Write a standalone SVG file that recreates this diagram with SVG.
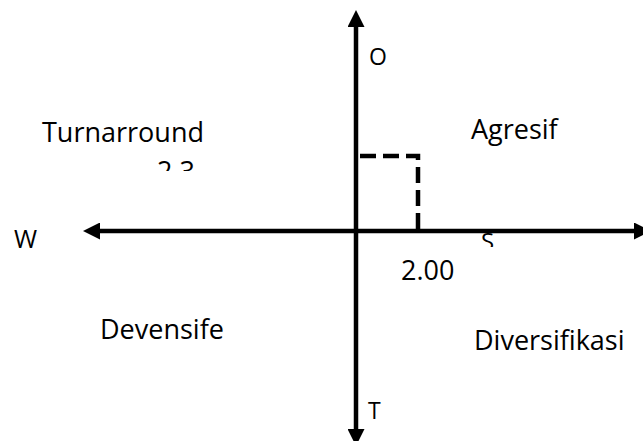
<svg xmlns="http://www.w3.org/2000/svg" width="643" height="441" viewBox="0 0 643 441">
<style>
text{font-family:"Open Sans","Liberation Sans",sans-serif;fill:#000}
.w{font-size:27px}
.l{font-size:23px}
.axis{stroke:#000;stroke-width:4.5;fill:none}
.dash{stroke:#000;stroke-width:4.5;fill:none;stroke-dasharray:16 7}
</style>
<defs>
<marker id="ah" viewBox="0 0 17 17" refX="0" refY="8.5" markerWidth="17" markerHeight="17" markerUnits="userSpaceOnUse" orient="auto-start-reverse">
<path d="M0,0 L17,8.5 L0,17 z" fill="#000"/>
</marker>
<clipPath id="clipA" clipPathUnits="userSpaceOnUse"><rect x="140" y="150" width="80" height="21"/></clipPath>
<clipPath id="clipB" clipPathUnits="userSpaceOnUse"><rect x="470" y="226" width="40" height="21"/></clipPath>
</defs>
<rect width="643" height="441" fill="#fff"/>
<g id="connectors">
<line class="axis" x1="356" y1="27" x2="356" y2="429" marker-start="url(#ah)" marker-end="url(#ah)"/>
<line class="axis" x1="100" y1="231" x2="634" y2="231" marker-start="url(#ah)" marker-end="url(#ah)"/>
<path class="dash" d="M360,156 H418 V231"/>
</g>
<g id="label-O"><text class="l" x="369" y="65">O</text></g>
<g id="label-T"><text class="l" x="368" y="419">T</text></g>
<g id="label-W"><text class="l" x="14" y="248" style="font-size:25px">W</text></g>
<g id="label-S" clip-path="url(#clipB)"><text class="l" x="481" y="250" style="font-size:24px">S</text></g>
<g id="turnarround"><text class="w" x="42" y="142">Turnarround</text></g>
<g id="value-23" clip-path="url(#clipA)"><text class="w" x="157" y="181">2.3</text></g>
<g id="agresif"><text class="w" x="471" y="139">Agresif</text></g>
<g id="value-200"><text class="w" x="401" y="280">2.00</text></g>
<g id="devensife"><text class="w" x="100" y="339">Devensife</text></g>
<g id="diversifikasi"><text class="w" x="474" y="350">Diversifikasi</text></g>
</svg>
